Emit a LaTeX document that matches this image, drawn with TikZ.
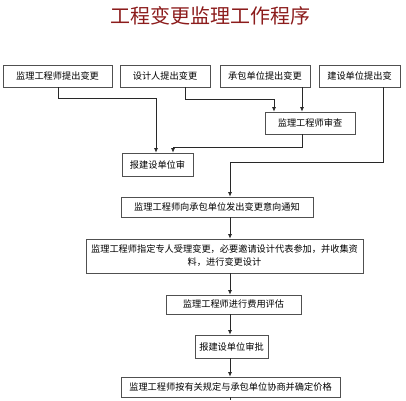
\documentclass[tikz,border=0pt]{standalone}
\usepackage{fontspec}
\newfontfamily\cjk{Noto Sans CJK SC}
\usetikzlibrary{arrows.meta,positioning}
\definecolor{tc}{RGB}{140,28,28}
\definecolor{bd}{RGB}{80,80,80}
\definecolor{ln}{RGB}{40,40,40}
\tikzset{
  stepbox/.style={draw=bd, line width=0.8pt, inner sep=1pt, minimum height=22pt,
    font=\cjk\fontsize{9.2}{13}\selectfont},
  flow/.style={draw=ln, line width=0.7pt, -{Latex[length=4.5pt,width=4pt]}},
  tailline/.style={draw=ln, line width=0.7pt}
}

\begin{document}
\begin{tikzpicture}[x=1pt,y=-1pt]
\useasboundingbox (0,0) rectangle (406,400);
\node[font=\cjk\fontsize{20}{24}\selectfont, text=tc] (title) at (210,16) {工程变更监理工作程序};
% proposers
\node[stepbox, minimum width=109pt] (jl) at (57.5,76) {监理工程师提出变更};
\node[stepbox, minimum width=90pt] (sj) at (165,76) {设计人提出变更};
\node[stepbox, minimum width=90pt] (cb) at (265,76) {承包单位提出变更};
\node[stepbox, minimum width=81pt] (js) at (359.5,76) {建设单位提出变};
\node[stepbox, minimum width=90pt] (sc) at (310,123) {监理工程师审查};
\node[stepbox, minimum width=71pt, minimum height=23pt] (bj) at (157.5,164.5) {报建设单位审};
% main flow
\node[stepbox, minimum width=192pt, minimum height=20pt] (tz) at (217,207) {监理工程师向承包单位发出变更意向通知};
\node[stepbox, minimum width=277pt, minimum height=34pt, text width=270pt, align=center] (zd) at (224.5,256)
  {监理工程师指定专人受理变更，必要邀请设计代表参加，并收集资\\料，进行变更设计};
\node[stepbox, minimum width=135pt, minimum height=19pt] (pg) at (233.5,304.5) {监理工程师进行费用评估};
\node[stepbox, minimum width=73pt, minimum height=23pt] (sp) at (231.5,346.5) {报建设单位审批};
\node[stepbox, minimum width=219pt, minimum height=20pt] (jg) at (230.5,387) {监理工程师按有关规定与承包单位协商并确定价格};
\coordinate (mid) at (230,0);
\coordinate (tail) at (230,400);
% connectors
\draw[flow] ([xshift=0.5]jl.south) -- ++(0,11) -| ([xshift=-1.5]bj.north);
\draw[flow] ([xshift=20]sj.south) -- ++(0,12) -| ([xshift=-36]sc.north);
\draw[flow] ([xshift=37]cb.south) -- ([xshift=-8]sc.north);
\draw[flow] ([xshift=-8]sc.south) -- ++(0,13) -| ([xshift=15.5]bj.north);
\draw[flow] ([xshift=23.5]js.south) -- ++(0,75) -| (tz.north -| mid);
\draw[flow] (tz.south -| mid) -- (zd.north -| mid);
\draw[flow] (zd.south -| mid) -- (pg.north -| mid);
\draw[flow] (pg.south -| mid) -- (sp.north -| mid);
\draw[flow] (sp.south -| mid) -- (jg.north -| mid);
\draw[tailline] (jg.south -| mid) -- (tail);
\end{tikzpicture}
\end{document}
